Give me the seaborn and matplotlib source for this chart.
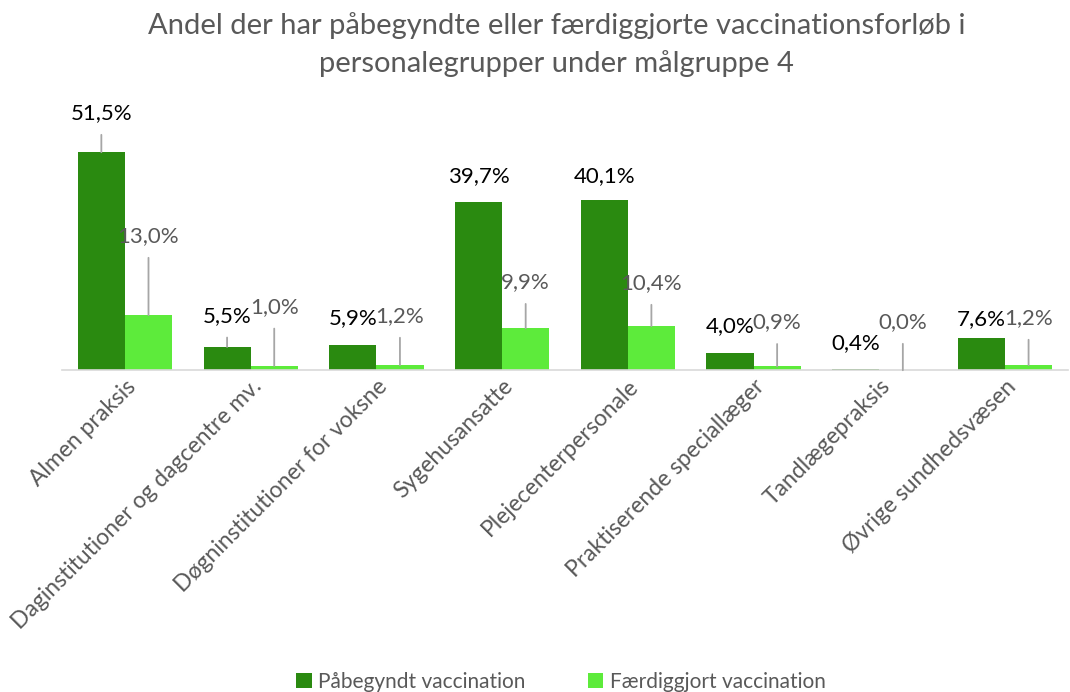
"""
Vaccination coverage among staff groups in target group 4
"""

import pandas as pd
import matplotlib
matplotlib.use('Agg')
import matplotlib.pyplot as plt
import seaborn as sns

# Data
groups = ['Almen praksis', 'Daginstitutioner og dagcentre mv.', 'Døgninstitutioner for voksne',
          'Sygehusansatte', 'Plejecenterpersonale', 'Praktiserende speciallæger',
          'Tandlægepraksis', 'Øvrige sundhedsvæsen']
started = [51.5, 5.5, 5.9, 39.7, 40.1, 4.0, 0.4, 7.6]
completed = [13.0, 1.0, 1.2, 9.9, 10.4, 0.9, 0.0, 1.2]
series_names = ['Påbegyndt vaccination', 'Færdiggjort vaccination']

# label offsets above the bar top, in pixels (as placed in the original)
started_offsets = [39, 31, 27, 26, 24, 27, 25, 19]
completed_offsets = [79, 59, 49, 46, 43, 44, 48, 47]

DARK = '#2a8a10'
LIGHT = '#5deb3b'
GREY = '#595959'

sns.set_theme(style='white')
plt.rcParams['font.family'] = ['Lato', 'DejaVu Sans']

df = pd.DataFrame({
    'group': groups * 2,
    'value': started + completed,
    'series': [series_names[0]] * len(groups) + [series_names[1]] * len(groups),
})

fig = plt.figure(figsize=(10.7, 6.92), dpi=100)
ax = fig.add_axes([0.058, 0.465, 0.94, 0.367])

sns.barplot(data=df, x='group', y='value', hue='series', order=groups,
            hue_order=series_names, palette=[DARK, LIGHT], saturation=1,
            width=0.75, linewidth=0, ax=ax, legend=True)

ax.set_ylim(0, 60)
ax.set_xlim(-0.5, len(groups) - 0.5)
ax.set_xlabel('')
ax.set_ylabel('')
ax.set_yticks([])
for side in ['top', 'right', 'left']:
    ax.spines[side].set_visible(False)
ax.spines['bottom'].set_color('#d9d9d9')
ax.spines['bottom'].set_linewidth(1.2)

ax.tick_params(axis='x', length=0, pad=4)
ax.set_xticks(range(len(groups)))
ax.set_xticklabels(groups, rotation=45, ha='right', rotation_mode='anchor',
                   fontsize=16.5, color=GREY)

# data labels with leader lines
for containers, vals, offs, col in [(ax.containers[0], started, started_offsets, 'black'),
                                    (ax.containers[1], completed, completed_offsets, GREY)]:
    for bar, v, off in zip(containers, vals, offs):
        x = bar.get_x() + bar.get_width() / 2
        arrow = dict(arrowstyle='-', color='#a6a6a6', lw=1.3, shrinkA=6, shrinkB=0) if off > 28 else None
        ax.annotate(f'{v:.1f}%'.replace('.', ','), xy=(x, v), xytext=(0, off),
                    textcoords='offset pixels', ha='center', va='center',
                    fontsize=16, color=col, arrowprops=arrow, annotation_clip=False)

ax.legend(loc='lower center', bbox_to_anchor=(0.524, -0.027), bbox_transform=fig.transFigure,
          ncol=2, frameon=False, fontsize=15, handlelength=0.75, handleheight=0.75,
          columnspacing=3.0, handletextpad=0.3, labelcolor=GREY)

fig.suptitle('Andel der har påbegyndte eller færdiggjorte vaccinationsforløb i\npersonalegrupper under målgruppe 4',
             x=0.52, y=0.982, fontsize=21, color=GREY, linespacing=1.5)

fig.savefig('out.png', dpi=100)
